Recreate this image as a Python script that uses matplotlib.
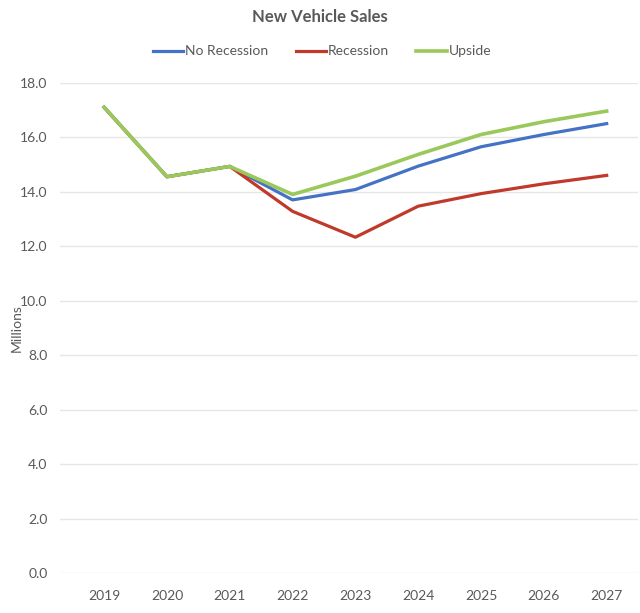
import matplotlib
matplotlib.use("Agg")
import matplotlib.pyplot as plt

years = ["2019", "2020", "2021", "2022", "2023", "2024", "2025", "2026", "2027"]
no_recession = [17.1, 14.55, 14.93, 13.7, 14.08, 14.94, 15.65, 16.1, 16.5]
recession = [17.1, 14.55, 14.93, 13.28, 12.33, 13.47, 13.93, 14.29, 14.6]
upside = [17.1, 14.55, 14.93, 13.9, 14.57, 15.37, 16.1, 16.57, 16.96]

plt.rcParams['font.family'] = ['Lato', 'DejaVu Sans']
txt = '#595959'

fig = plt.figure(figsize=(6.4, 6.13), dpi=100)
ax = fig.add_axes([0.094, 0.065, 0.903, 0.80])

x = range(len(years))
ax.plot(x, no_recession, color='#4472C4', lw=2.3, label='No Recession', zorder=3)
ax.plot(x, recession, color='#C0392B', lw=2.3, label='Recession', zorder=3)
ax.plot(x, upside, color='#9BC85A', lw=2.6, label='Upside', zorder=4)

ax.set_xlim(-0.7, 8.5)
ax.set_ylim(0, 18)
ax.set_yticks([i * 2 for i in range(10)])
ax.set_yticklabels(["%.1f" % (i * 2) for i in range(10)])
ax.set_xticks(list(x))
ax.set_xticklabels(years)
ax.tick_params(length=0, colors=txt, labelsize=10, pad=12)
ax.tick_params(axis='y', pad=9)
ax.grid(axis='y', color='#E6E6E6', lw=1)
ax.set_axisbelow(True)
for s in ax.spines.values():
    s.set_visible(False)

ax.set_ylabel('Millions', color=txt, fontsize=10)
ax.yaxis.set_label_coords(-0.064, 0.5)
fig.text(0.50, 0.973, 'New Vehicle Sales', ha='center', va='center',
         fontsize=12, fontweight='bold', color=txt)
fig.legend(loc='center', bbox_to_anchor=(0.503, 0.916), ncol=3, frameon=False,
           fontsize=10, labelcolor=txt, handlelength=2.2, handletextpad=0.1,
           columnspacing=2.0)

fig.savefig('out.png', dpi=100)
